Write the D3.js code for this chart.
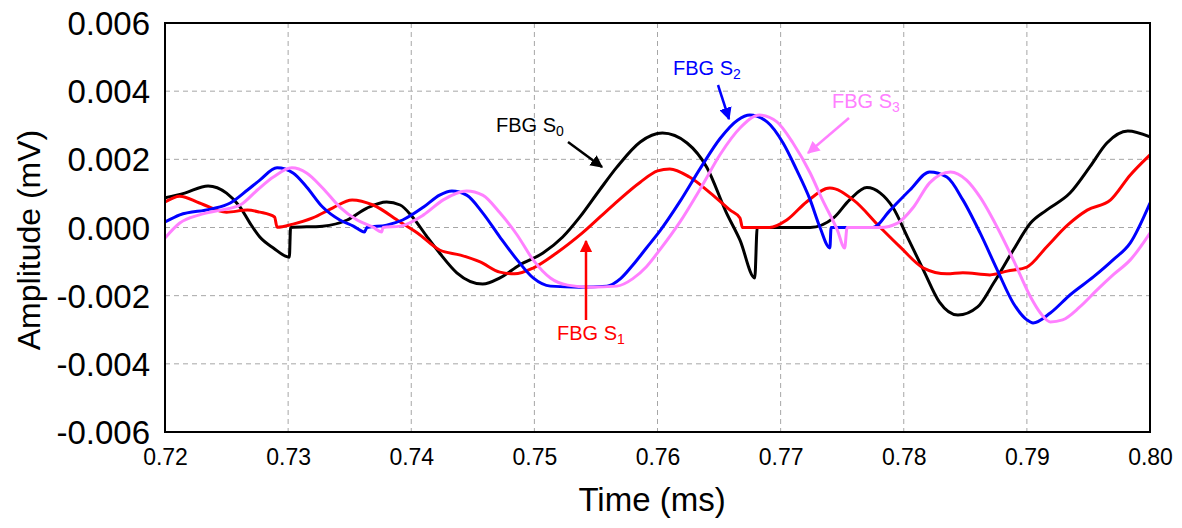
<!DOCTYPE html>
<html>
<head>
<meta charset="utf-8">
<script src="https://cdn.jsdelivr.net/npm/d3@7"></script>
<style>
  html, body { margin: 0; padding: 0; background: #fff; }
  svg { display: block; font-family: "Liberation Sans", Arial, sans-serif; }
</style>
</head>
<body>
<svg id="chart" width="1182" height="528"></svg>
<script>
// ---- data (time in ms, amplitude in mV) ----
const xTicks = [0.72, 0.73, 0.74, 0.75, 0.76, 0.77, 0.78, 0.79, 0.80];
const xTickLabels = ["0.72", "0.73", "0.74", "0.75", "0.76", "0.77", "0.78", "0.79", "0.80"];
const yTicks = [-0.006, -0.004, -0.002, 0.000, 0.002, 0.004, 0.006];
const yTickLabels = ["-0.006", "-0.004", "-0.002", "0.000", "0.002", "0.004", "0.006"];

const s0Time = [0.7200,0.7216,0.7235,0.7250,0.7261,0.7269,0.7277,0.7288,0.7301,0.7302,0.7328,0.7348,0.7364,0.7380,0.7391,0.7401,0.7413,0.7423,0.7437,0.7458,0.7472,0.7488,0.7507,0.7523,0.7537,0.7553,0.7567,0.7586,0.7604,0.7624,0.7640,0.7656,0.7667,0.7679,0.7681,0.7724,0.7743,0.7756,0.7770,0.7781,0.7791,0.7803,0.7816,0.7829,0.7844,0.7860,0.7873,0.7889,0.7903,0.7916,0.7935,0.7951,0.7965,0.7982,0.8000];
const s0Amp  = [0.00087,0.00101,0.00122,0.00101,0.00060,0.00013,-0.00028,-0.00060,-0.00087,0.00000,0.00004,0.00022,0.00057,0.00075,0.00066,0.00031,-0.00028,-0.00075,-0.00133,-0.00166,-0.00148,-0.00110,-0.00075,-0.00028,0.00031,0.00110,0.00177,0.00251,0.00277,0.00248,0.00177,0.00043,-0.00037,-0.00148,0.00000,0.00000,0.00028,0.00081,0.00117,0.00101,0.00060,-0.00028,-0.00125,-0.00219,-0.00257,-0.00233,-0.00163,-0.00066,0.00013,0.00051,0.00101,0.00177,0.00248,0.00283,0.00266];

const s1Time = [0.7200,0.7212,0.7228,0.7250,0.7267,0.7277,0.7289,0.7291,0.7304,0.7320,0.7336,0.7352,0.7369,0.7391,0.7405,0.7423,0.7440,0.7456,0.7472,0.7484,0.7499,0.7518,0.7539,0.7564,0.7586,0.7600,0.7610,0.7626,0.7643,0.7659,0.7667,0.7669,0.7691,0.7705,0.7721,0.7740,0.7759,0.7781,0.7797,0.7816,0.7835,0.7848,0.7870,0.7884,0.7900,0.7916,0.7933,0.7949,0.7968,0.7984,0.8000];
const s1Amp  = [0.00075,0.00092,0.00072,0.00045,0.00051,0.00045,0.00031,0.00001,0.00010,0.00028,0.00057,0.00081,0.00066,0.00016,-0.00016,-0.00066,-0.00081,-0.00101,-0.00131,-0.00136,-0.00119,-0.00075,-0.00016,0.00066,0.00133,0.00166,0.00172,0.00148,0.00101,0.00051,0.00028,0.00000,0.00000,0.00022,0.00075,0.00116,0.00081,0.00000,-0.00057,-0.00119,-0.00136,-0.00133,-0.00139,-0.00128,-0.00116,-0.00057,0.00007,0.00051,0.00081,0.00154,0.00213];

const s2Time = [0.7200,0.7212,0.7237,0.7253,0.7267,0.7277,0.7291,0.7304,0.7315,0.7328,0.7342,0.7353,0.7362,0.7364,0.7380,0.7393,0.7410,0.7423,0.7433,0.7445,0.7458,0.7472,0.7486,0.7499,0.7513,0.7537,0.7559,0.7570,0.7580,0.7591,0.7602,0.7618,0.7635,0.7651,0.7665,0.7675,0.7689,0.7702,0.7713,0.7724,0.7732,0.7740,0.7741,0.7775,0.7789,0.7805,0.7821,0.7835,0.7848,0.7862,0.7876,0.7889,0.7900,0.7905,0.7919,0.7935,0.7954,0.7970,0.7984,0.8000];
const s2Amp  = [0.00016,0.00037,0.00054,0.00072,0.00110,0.00139,0.00175,0.00160,0.00119,0.00060,0.00022,0.00004,-0.00013,0.00000,0.00007,0.00022,0.00060,0.00095,0.00107,0.00095,0.00043,-0.00028,-0.00095,-0.00148,-0.00172,-0.00175,-0.00172,-0.00150,-0.00110,-0.00060,-0.00010,0.00075,0.00175,0.00262,0.00315,0.00330,0.00310,0.00248,0.00169,0.00081,0.00000,-0.00060,0.00000,0.00000,0.00051,0.00110,0.00163,0.00148,0.00081,-0.00016,-0.00125,-0.00222,-0.00271,-0.00280,-0.00251,-0.00198,-0.00145,-0.00095,-0.00045,0.00072];

const s3Time = [0.7200,0.7212,0.7228,0.7245,0.7261,0.7275,0.7288,0.7303,0.7315,0.7328,0.7342,0.7356,0.7369,0.7376,0.7377,0.7391,0.7410,0.7426,0.7445,0.7458,0.7472,0.7486,0.7499,0.7513,0.7527,0.7545,0.7567,0.7580,0.7591,0.7602,0.7618,0.7635,0.7651,0.7667,0.7683,0.7697,0.7710,0.7724,0.7734,0.7746,0.7752,0.7754,0.7781,0.7795,0.7808,0.7821,0.7838,0.7851,0.7862,0.7876,0.7889,0.7903,0.7911,0.7919,0.7929,0.7943,0.7957,0.7970,0.7984,0.8000];
const s3Amp  = [-0.00031,0.00013,0.00037,0.00051,0.00066,0.00110,0.00148,0.00175,0.00160,0.00116,0.00060,0.00022,0.00001,-0.00013,0.00000,0.00004,0.00037,0.00081,0.00107,0.00095,0.00043,-0.00022,-0.00095,-0.00148,-0.00169,-0.00175,-0.00172,-0.00150,-0.00115,-0.00065,0.00015,0.00115,0.00215,0.00292,0.00330,0.00310,0.00248,0.00160,0.00081,-0.00007,-0.00060,0.00000,0.00000,0.00013,0.00060,0.00131,0.00163,0.00139,0.00089,0.00000,-0.00095,-0.00204,-0.00251,-0.00277,-0.00271,-0.00233,-0.00183,-0.00139,-0.00095,-0.00016];

const seriesNames = ["FBG S0", "FBG S1", "FBG S2", "FBG S3"];
const seriesColors = ["#000000", "#ff0000", "#0000ff", "#ff80ff"];

// ---- layout ----
const svg = d3.select("#chart");
const L = 165, R = 1150, T = 23, B = 432;
const x = d3.scaleLinear().domain([0.72, 0.80]).range([L, R]);
const y = d3.scaleLinear().domain([-0.006, 0.006]).range([B, T]);

// grid
const grid = svg.append("g");
grid.selectAll("line.vx").data(xTicks.slice(1, -1)).enter().append("line")
  .attr("x1", d => x(d)).attr("x2", d => x(d)).attr("y1", T).attr("y2", B)
  .attr("stroke", "#a6a6a6").attr("stroke-width", 1).attr("stroke-dasharray", "5,4");
grid.selectAll("line.hy").data(yTicks.slice(1, -1)).enter().append("line")
  .attr("x1", L).attr("x2", R).attr("y1", d => y(d)).attr("y2", d => y(d))
  .attr("stroke", "#a6a6a6").attr("stroke-width", 1).attr("stroke-dasharray", "5,4");

// axes (labels only)
const xAxis = d3.axisBottom(x).tickValues(xTicks).tickFormat((d, i) => xTickLabels[i]).tickSize(0).tickPadding(0);
const gx = svg.append("g").attr("transform", `translate(0,${B})`).call(xAxis);
gx.select(".domain").remove();
gx.selectAll("text").attr("font-size", 23).attr("fill", "#000").attr("dy", null).attr("y", 33)
  .attr("font-family", "'Liberation Sans', Arial, sans-serif");

const yAxis = d3.axisLeft(y).tickValues(yTicks).tickFormat((d, i) => yTickLabels[i]).tickSize(0).tickPadding(15);
const gy = svg.append("g").attr("transform", `translate(${L},0)`).call(yAxis);
gy.select(".domain").remove();
gy.selectAll("text").attr("font-size", 33).attr("fill", "#000").attr("dy", "0.35em")
  .attr("font-family", "'Liberation Sans', Arial, sans-serif");

// clip
svg.append("clipPath").attr("id", "clip").append("rect")
  .attr("x", L).attr("y", T).attr("width", R - L).attr("height", B - T);

const line = d3.line().x(d => x(d[0])).y(d => y(d[1])).curve(d3.curveMonotoneX);
const allSeries = [
  d3.zip(s0Time, s0Amp), d3.zip(s1Time, s1Amp), d3.zip(s2Time, s2Amp), d3.zip(s3Time, s3Amp)
];
const gl = svg.append("g").attr("clip-path", "url(#clip)");
allSeries.forEach((pts, i) => {
  gl.append("path").datum(pts).attr("d", line)
    .attr("fill", "none").attr("stroke", seriesColors[i]).attr("stroke-width", 3)
    .attr("stroke-linejoin", "round");
});

// frame
svg.append("rect").attr("x", L).attr("y", T).attr("width", R - L).attr("height", B - T)
  .attr("fill", "none").attr("stroke", "#000").attr("stroke-width", 2);

// axis titles
svg.append("text").attr("x", 652).attr("y", 511).attr("text-anchor", "middle")
  .attr("font-size", 33).attr("fill", "#000").text("Time (ms)");
svg.append("text").attr("transform", `translate(40,240) rotate(-90)`).attr("text-anchor", "middle")
  .attr("font-size", 32).attr("fill", "#000").text("Amplitude (mV)");

// annotations with arrows
const defs = svg.append("defs");
seriesColors.forEach((c, i) => {
  defs.append("marker").attr("id", "arr" + i).attr("viewBox", "0 0 10 10")
    .attr("refX", 9).attr("refY", 5).attr("markerWidth", 5).attr("markerHeight", 5)
    .attr("markerUnits", "strokeWidth").attr("orient", "auto")
    .append("path").attr("d", "M0,0 L10,5 L0,10 z").attr("fill", c);
});
const annots = [
  { i: 0, tx: 496, ty: 132, sub: "0", ax1: 568, ay1: 142, ax2: 602, ay2: 167 },
  { i: 1, tx: 557, ty: 340, sub: "1", ax1: 586, ay1: 320, ax2: 586, ay2: 241 },
  { i: 2, tx: 673, ty: 75, sub: "2", ax1: 718, ay1: 85, ax2: 729, ay2: 119 },
  { i: 3, tx: 832, ty: 108, sub: "3", ax1: 849, ay1: 118, ax2: 808, ay2: 153 }
];
annots.forEach(a => {
  const t = svg.append("text").attr("x", a.tx).attr("y", a.ty).attr("font-size", 20)
    .attr("fill", seriesColors[a.i]);
  t.append("tspan").text("FBG S");
  t.append("tspan").attr("font-size", 14).attr("dy", 4).text(a.sub);
  svg.append("line").attr("x1", a.ax1).attr("y1", a.ay1).attr("x2", a.ax2).attr("y2", a.ay2)
    .attr("stroke", seriesColors[a.i]).attr("stroke-width", 2.5).attr("marker-end", `url(#arr${a.i})`);
});
</script>
</body>
</html>
